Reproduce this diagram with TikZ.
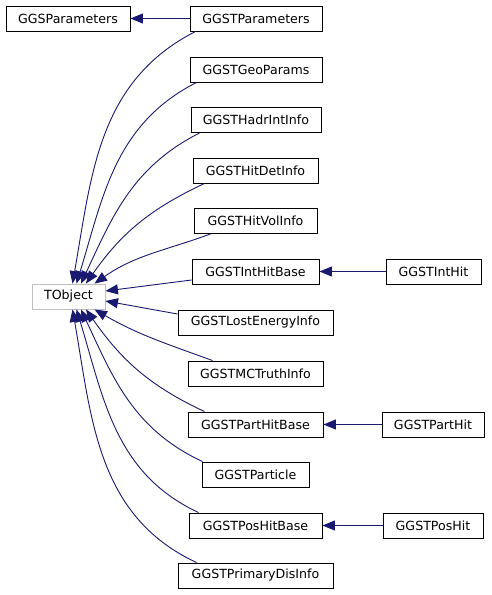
\documentclass[tikz,border=0pt]{standalone}
\usepackage{fontspec}
\setmainfont{DejaVu Sans}
\usetikzlibrary{arrows.meta}
\definecolor{edgeblue}{HTML}{191970}
\definecolor{extgray}{HTML}{BFBFBF}
\tikzset{
  cls/.style={draw=black, line width=0.9pt, fill=white, minimum height=25pt, inner sep=0pt,
    font=\fontsize{12.6}{14}\selectfont},
  extcls/.style={cls, draw=extgray},
  edge/.style={draw=edgeblue, line width=0.9pt, -{Triangle[length=12.5pt,width=10pt]}},
}
\begin{document}
\begin{tikzpicture}[x=1pt,y=-1pt]
\useasboundingbox[fill=white] (0,0) rectangle (491,595);
% nodes
\node[cls, minimum width=124pt] (ggsparams) at (68,18.5) {GGSParameters};
\node[cls, minimum width=132pt] (params) at (256,18.5) {GGSTParameters};
\node[cls, minimum width=132pt] (geo) at (256,69.5) {GGSTGeoParams};
\node[cls, minimum width=130pt] (hadr) at (256,120) {GGSTHadrIntInfo};
\node[cls, minimum width=125pt] (hitdet) at (255.5,170.5) {GGSTHitDetInfo};
\node[cls, minimum width=123pt] (hitvol) at (255.5,221) {GGSTHitVolInfo};
\node[cls, minimum width=127pt] (inthitbase) at (255.5,271.5) {GGSTIntHitBase};
\node[cls, minimum width=95pt] (inthit) at (433.5,271.5) {GGSTIntHit};
\node[extcls, minimum width=73pt] (tobj) at (68.5,296.5) {TObject};
\node[cls, minimum width=155pt] (lost) at (255.5,322.5) {GGSTLostEnergyInfo};
\node[cls, minimum width=135pt] (mctruth) at (255.5,373.5) {GGSTMCTruthInfo};
\node[cls, minimum width=135pt] (parthitbase) at (255.5,424.5) {GGSTPartHitBase};
\node[cls, minimum width=102pt] (parthit) at (433,424.5) {GGSTPartHit};
\node[cls, minimum width=107pt] (particle) at (255.5,474.5) {GGSTParticle};
\node[cls, minimum width=133pt] (poshitbase) at (255.5,525.5) {GGSTPosHitBase};
\node[cls, minimum width=100pt] (poshit) at (433,525.5) {GGSTPosHit};
\node[cls, minimum width=155pt] (primary) at (255.5,575.5) {GGSTPrimaryDisInfo};
% horizontal inheritance
\draw[edge] (params) -- (ggsparams);
\draw[edge] (inthit) -- (inthitbase);
\draw[edge] (parthit) -- (parthitbase);
\draw[edge] (poshit) -- (poshitbase);
% edges to TObject (upper)
\draw[edge] ([xshift=6pt]params.south west) to[out=207,in=80] ([xshift=4pt]tobj.north);
\draw[edge] ([xshift=7pt]geo.south west) to[out=207,in=73] ([xshift=8pt]tobj.north);
\draw[edge] ([xshift=9pt]hadr.south west) to[out=207,in=65] ([xshift=12.5pt]tobj.north);
\draw[edge] ([xshift=12pt]hitdet.south west) to[out=205,in=55] ([xshift=17.5pt]tobj.north);
\draw[edge] ([xshift=17pt]hitvol.south west) to[out=200,in=35] ([xshift=26pt]tobj.north);
\draw[edge] ([yshift=-8.5pt]inthitbase.west) -- ([yshift=5.5pt]tobj.east);
\draw[edge] ([yshift=8.5pt]lost.west) -- ([yshift=-4.5pt]tobj.east);
% edges to TObject (lower)
\draw[edge] ([xshift=25pt]mctruth.north west) to[out=160,in=-30] ([xshift=26pt]tobj.south);
\draw[edge] ([xshift=17pt]parthitbase.north west) to[out=155,in=-55] ([xshift=17.5pt]tobj.south);
\draw[edge] ([xshift=1pt]particle.north west) to[out=155,in=-65] ([xshift=12.5pt]tobj.south);
\draw[edge] ([xshift=10pt]poshitbase.north west) to[out=155,in=-73] ([xshift=8pt]tobj.south);
\draw[edge] ([xshift=19pt]primary.north west) to[out=155,in=-80] ([xshift=4pt]tobj.south);
\end{tikzpicture}
\end{document}
